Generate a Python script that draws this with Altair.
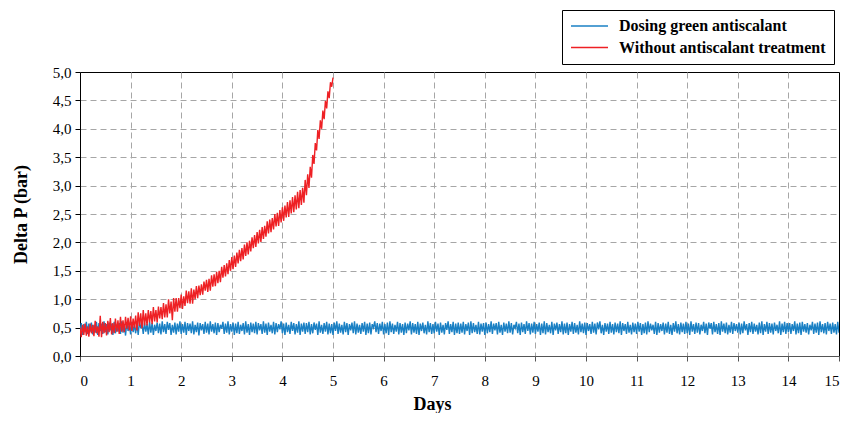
import altair as alt
import pandas as pd

series_names = ["Dosing green antiscalant", "Without antiscalant treatment"]
series_colors = ["#1a80c4", "#ee2024"]

x_ticks = list(range(0, 16))
y_ticks = [0, 0.5, 1.0, 1.5, 2.0, 2.5, 3.0, 3.5, 4.0, 4.5, 5.0]

# Without antiscalant: one reading every 0.025 day, 0 -> 5 days
red_step = 0.025
red_dp = [
    0.50, 0.33, 0.55, 0.37, 0.57, 0.36, 0.52, 0.34, 0.57, 0.40,
    0.55, 0.35, 0.62, 0.40, 0.52, 0.34, 0.71, 0.33, 0.60, 0.40,
    0.58, 0.36, 0.62, 0.42, 0.67, 0.38, 0.58, 0.40, 0.66, 0.43,
    0.63, 0.39, 0.69, 0.43, 0.63, 0.42, 0.69, 0.48, 0.67, 0.45,
    0.70, 0.44, 0.66, 0.49, 0.71, 0.45, 0.77, 0.53, 0.75, 0.49,
    0.81, 0.54, 0.75, 0.54, 0.81, 0.59, 0.79, 0.56, 0.86, 0.61,
    0.81, 0.59, 0.87, 0.66, 0.86, 0.65, 0.93, 0.68, 0.91, 0.68,
    1.00, 0.75, 0.96, 0.63, 1.02, 0.78, 1.02, 0.78, 1.02, 0.84,
    1.08, 0.83, 1.05, 0.88, 1.15, 0.93, 1.14, 0.92, 1.19, 0.92,
    1.17, 1.00, 1.23, 1.02, 1.24, 1.07, 1.26, 1.08, 1.31, 1.15,
    1.34, 1.13, 1.36, 1.15, 1.42, 1.22, 1.44, 1.23, 1.48, 1.28,
    1.50, 1.30, 1.57, 1.38, 1.60, 1.40, 1.63, 1.44, 1.69, 1.50,
    1.74, 1.53, 1.77, 1.57, 1.82, 1.63, 1.87, 1.67, 1.90, 1.70,
    1.96, 1.76, 2.00, 1.79, 2.03, 1.84, 2.09, 1.90, 2.13, 1.92,
    2.18, 1.98, 2.22, 2.01, 2.27, 2.06, 2.29, 2.10, 2.37, 2.16,
    2.40, 2.18, 2.43, 2.23, 2.50, 2.28, 2.52, 2.29, 2.57, 2.35,
    2.62, 2.38, 2.65, 2.44, 2.71, 2.45, 2.74, 2.51, 2.80, 2.53,
    2.83, 2.58, 2.89, 2.60, 2.92, 2.66, 2.96, 2.70, 3.10, 2.83,
    3.20, 2.96, 3.33, 3.14, 3.54, 3.38, 3.75, 3.62, 3.98, 3.82,
    4.15, 4.00, 4.32, 4.17, 4.49, 4.36, 4.66, 4.54, 4.82, 4.74,
    4.90,
]

# Dosing green antiscalant: one reading every 0.025 day, 0 -> 15 days
blue_step = 0.025
blue_dp = [
    0.40, 0.58, 0.37, 0.56, 0.42, 0.60, 0.39, 0.57, 0.43, 0.59, 0.38, 0.55, 0.41, 0.60, 0.37, 0.58, 0.44, 0.57, 0.39, 0.61,
    0.42, 0.56, 0.38, 0.59, 0.45, 0.57, 0.37, 0.60, 0.40, 0.55, 0.43, 0.58, 0.39, 0.61, 0.41, 0.56, 0.36, 0.59, 0.44, 0.57,
    0.38, 0.60, 0.42, 0.55, 0.40, 0.58, 0.37, 0.61, 0.49, 0.57, 0.39, 0.59, 0.43, 0.56, 0.38, 0.60, 0.41, 0.58, 0.37, 0.55,
    0.44, 0.59, 0.40, 0.57, 0.38, 0.61, 0.42, 0.56, 0.39, 0.60, 0.46, 0.58, 0.37, 0.55, 0.41, 0.59, 0.38, 0.57, 0.43, 0.61,
    0.39, 0.56, 0.41, 0.60, 0.37, 0.58, 0.44, 0.57, 0.40, 0.61, 0.38, 0.55, 0.42, 0.59, 0.36, 0.58, 0.45, 0.56, 0.39, 0.60,
    0.41, 0.57, 0.38, 0.61, 0.43, 0.56, 0.40, 0.59, 0.37, 0.58, 0.42, 0.55, 0.48, 0.60, 0.39, 0.57, 0.41, 0.61, 0.38, 0.56,
    0.43, 0.59, 0.37, 0.57, 0.40, 0.60, 0.39, 0.55, 0.44, 0.58, 0.38, 0.61, 0.41, 0.56, 0.37, 0.59, 0.42, 0.57, 0.40, 0.60,
    0.38, 0.58, 0.45, 0.56, 0.39, 0.61, 0.41, 0.57, 0.37, 0.59, 0.43, 0.55, 0.40, 0.60, 0.38, 0.58, 0.42, 0.56, 0.47, 0.61,
    0.40, 0.57, 0.37, 0.59, 0.42, 0.55, 0.39, 0.60, 0.44, 0.58, 0.38, 0.56, 0.41, 0.61, 0.37, 0.57, 0.43, 0.59, 0.39, 0.58,
    0.42, 0.60, 0.38, 0.56, 0.40, 0.59, 0.46, 0.57, 0.37, 0.61, 0.41, 0.55, 0.39, 0.58, 0.43, 0.60, 0.38, 0.57, 0.40, 0.56,
    0.37, 0.59, 0.44, 0.61, 0.39, 0.57, 0.41, 0.55, 0.38, 0.60, 0.42, 0.58, 0.37, 0.56, 0.45, 0.59, 0.40, 0.61, 0.38, 0.57,
    0.41, 0.55, 0.39, 0.58, 0.43, 0.60, 0.37, 0.57, 0.40, 0.59, 0.38, 0.56, 0.50, 0.61, 0.42, 0.58, 0.39, 0.57, 0.44, 0.60,
    0.38, 0.56, 0.40, 0.59, 0.37, 0.61, 0.42, 0.57, 0.39, 0.55, 0.43, 0.60, 0.38, 0.58, 0.41, 0.56, 0.37, 0.59, 0.40, 0.57,
    0.45, 0.61, 0.38, 0.58, 0.41, 0.56, 0.39, 0.60, 0.37, 0.57, 0.44, 0.59, 0.40, 0.55, 0.38, 0.61, 0.42, 0.58, 0.39, 0.56,
    0.40, 0.60, 0.43, 0.57, 0.37, 0.59, 0.41, 0.55, 0.38, 0.58, 0.46, 0.61, 0.39, 0.56, 0.42, 0.60, 0.37, 0.57, 0.40, 0.59,
    0.39, 0.57, 0.41, 0.60, 0.38, 0.56, 0.44, 0.59, 0.37, 0.61, 0.40, 0.58, 0.42, 0.55, 0.39, 0.60, 0.38, 0.57, 0.43, 0.58,
    0.37, 0.59, 0.40, 0.56, 0.42, 0.61, 0.39, 0.57, 0.45, 0.58, 0.38, 0.60, 0.41, 0.55, 0.37, 0.59, 0.43, 0.57, 0.40, 0.61,
    0.41, 0.58, 0.38, 0.55, 0.49, 0.60, 0.40, 0.57, 0.37, 0.59, 0.42, 0.56, 0.39, 0.61, 0.44, 0.58, 0.38, 0.57, 0.41, 0.60,
    0.39, 0.56, 0.43, 0.59, 0.37, 0.57, 0.40, 0.61, 0.38, 0.58, 0.42, 0.55, 0.40, 0.60, 0.37, 0.57, 0.45, 0.59, 0.39, 0.56,
    0.42, 0.61, 0.38, 0.57, 0.40, 0.59, 0.37, 0.56, 0.43, 0.60, 0.39, 0.58, 0.41, 0.55, 0.38, 0.61, 0.42, 0.57, 0.40, 0.59,
    0.37, 0.58, 0.44, 0.56, 0.39, 0.60, 0.41, 0.57, 0.38, 0.59, 0.47, 0.61, 0.40, 0.55, 0.37, 0.58, 0.43, 0.57, 0.39, 0.60,
    0.41, 0.56, 0.38, 0.59, 0.42, 0.57, 0.40, 0.61, 0.37, 0.58, 0.44, 0.56, 0.39, 0.60, 0.41, 0.55, 0.38, 0.59, 0.42, 0.57,
    0.39, 0.60, 0.43, 0.58, 0.37, 0.56, 0.40, 0.59, 0.38, 0.61, 0.42, 0.57, 0.45, 0.55, 0.39, 0.60, 0.37, 0.58, 0.41, 0.56,
    0.44, 0.59, 0.38, 0.57, 0.41, 0.60, 0.39, 0.55, 0.37, 0.58, 0.43, 0.61, 0.40, 0.56, 0.38, 0.59, 0.42, 0.57, 0.39, 0.60,
    0.40, 0.57, 0.37, 0.61, 0.43, 0.56, 0.39, 0.59, 0.41, 0.58, 0.38, 0.55, 0.44, 0.60, 0.40, 0.57, 0.37, 0.59, 0.48, 0.58,
    0.38, 0.60, 0.42, 0.56, 0.39, 0.58, 0.37, 0.61, 0.43, 0.57, 0.40, 0.59, 0.38, 0.55, 0.41, 0.60, 0.39, 0.58, 0.44, 0.56,
    0.41, 0.59, 0.38, 0.57, 0.40, 0.61, 0.45, 0.56, 0.37, 0.58, 0.42, 0.60, 0.39, 0.57, 0.43, 0.55, 0.38, 0.59, 0.40, 0.61,
    0.37, 0.56, 0.43, 0.60, 0.39, 0.58, 0.41, 0.57, 0.38, 0.59, 0.44, 0.55, 0.40, 0.61, 0.37, 0.57, 0.42, 0.60, 0.39, 0.58,
    0.42, 0.58, 0.39, 0.56, 0.44, 0.61, 0.38, 0.57, 0.40, 0.59, 0.37, 0.60, 0.43, 0.56, 0.41, 0.58, 0.38, 0.55, 0.45, 0.60,
    0.39, 0.57, 0.41, 0.59, 0.37, 0.61, 0.42, 0.56, 0.40, 0.58, 0.38, 0.60, 0.44, 0.57, 0.39, 0.59, 0.41, 0.56, 0.38, 0.60,
    0.41,
]

rows = []
for i, v in enumerate(blue_dp):
    rows.append({"day": round(i * blue_step, 3), "dp": v, "series": series_names[0]})
for i, v in enumerate(red_dp):
    rows.append({"day": round(i * red_step, 3), "dp": v, "series": series_names[1]})
df = pd.DataFrame(rows)

FONT = "Liberation Serif"

chart = alt.Chart(df).mark_line(strokeWidth=1.4, clip=True).encode(
    x=alt.X(
        "day:Q",
        scale=alt.Scale(domain=[0, 15], nice=False, zero=False),
        axis=alt.Axis(
            values=x_ticks, title="Days", format="d",
            titleX=352, titleY=53, titleBaseline="alphabetic", titleAlign="center",
            domainColor="#555555", tickColor="#555555",
            gridOpacity={"condition": {"test": "datum.value >= 15", "value": 0}, "value": 1},
        ),
    ),
    y=alt.Y(
        "dp:Q",
        scale=alt.Scale(domain=[0, 5], nice=False),
        axis=alt.Axis(
            values=y_ticks, title="Delta P (bar)",
            labelExpr="replace(format(datum.value, '.1f'), '.', ',')",
            titleAngle=270, titleX=-59, titleY=142, titleAlign="center", titleBaseline="middle",
            domainColor="black", tickColor="black",
            gridOpacity={"condition": {"test": "datum.value >= 5", "value": 0}, "value": 1},
        ),
    ),
    color=alt.Color(
        "series:N",
        scale=alt.Scale(domain=series_names, range=series_colors),
        legend=alt.Legend(
            title=None, orient="none", legendX=482, legendY=-62,
            strokeColor="black", fillColor="white", padding=8, cornerRadius=0,
            symbolType="stroke", symbolSize=1369, symbolStrokeWidth=1.5,
            symbolOpacity=1,
            clipHeight=16,
            labelFont=FONT, labelFontSize=16, labelFontWeight="bold", labelColor="black",
            labelOffset=10, labelLimit=0, rowPadding=5.5,
        ),
    ),
).properties(
    width=759, height=284,
    padding={"left": 72, "top": 64, "right": 2, "bottom": 57},
    autosize=alt.AutoSizeParams(type="none"),
).configure_view(
    stroke="black", strokeWidth=1,
).configure_axis(
    labelFont=FONT, labelFontSize=15, labelColor="black",
    titleFont=FONT, titleFontSize=18, titleFontWeight="bold", titleColor="black",
    grid=True, gridColor="#a6a6a6", gridDash=[6, 4], gridWidth=1,
    tickSize=5, labelPadding=4, domainWidth=1, tickWidth=1,
).configure_axisX(
    labelPadding=12,
)

chart.save("out.html", embed_options={"renderer": "svg", "actions": False})
